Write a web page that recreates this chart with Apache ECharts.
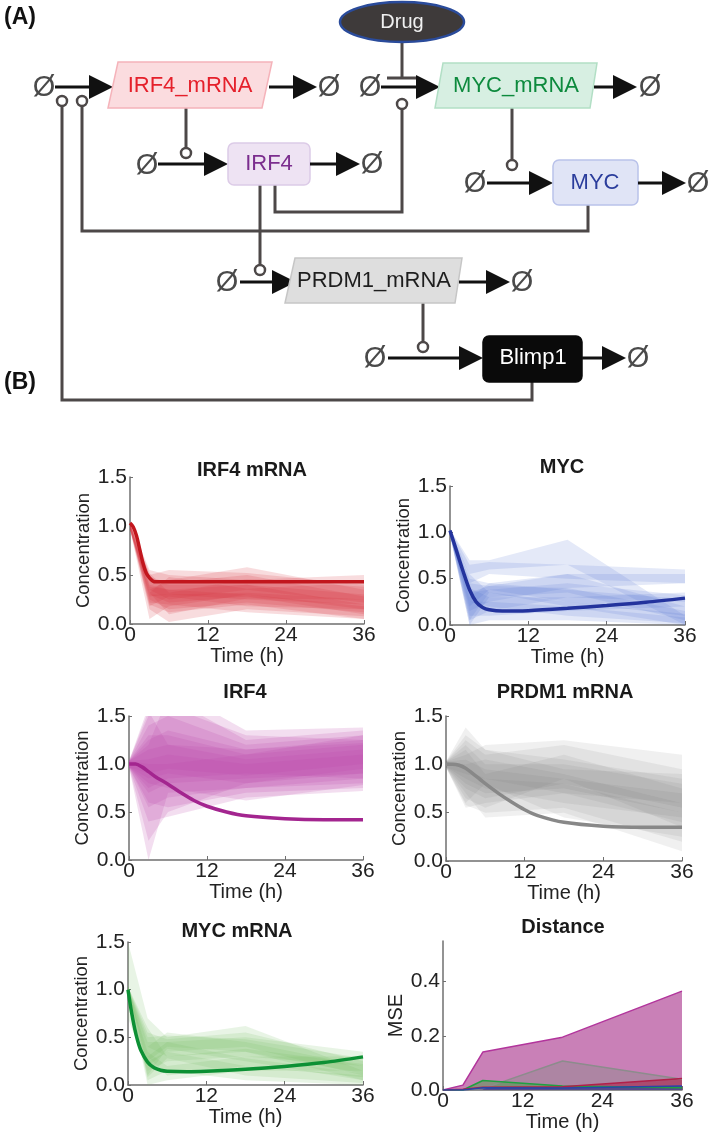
<!DOCTYPE html>
<html><head><meta charset="utf-8">
<script src="https://cdn.jsdelivr.net/npm/echarts@6/dist/echarts.min.js"></script>
<style>html,body{margin:0;padding:0;background:#fff}#c{width:709px;height:1134px}</style>
</head><body><div id="c"></div>
<script>
// ---------- DATA ----------
const bandTimes = [0, 3, 6, 18, 36];
const timeTicks = [0, 12, 24, 36];
const concTicks = [0, 0.5, 1.0, 1.5];
const mseTicks = [0, 0.2, 0.4];

// IRF4 mRNA
const irf4mRNA_lo = [[0.97,0.30,0.22,0.28,0.10],[0.97,0.20,0.12,0.20,0.05],[0.97,0.05,0.18,0.30,0.15],[0.97,0.28,0.30,0.25,0.20],[0.97,0.15,0.02,0.15,0.08],[0.97,0.35,0.25,0.35,0.22],[0.97,0.22,0.20,0.12,0.05],[0.97,0.25,0.15,0.22,0.12],[0.97,0.18,0.28,0.18,0.15],[0.97,0.32,0.10,0.26,0.25]];
const irf4mRNA_hi = [[1.03,0.48,0.42,0.50,0.28],[1.03,0.40,0.35,0.40,0.20],[1.03,0.35,0.45,0.58,0.35],[1.03,0.55,0.50,0.45,0.50],[1.03,0.30,0.30,0.32,0.25],[1.03,0.50,0.55,0.52,0.40],[1.03,0.38,0.35,0.30,0.18],[1.03,0.45,0.40,0.40,0.30],[1.03,0.32,0.48,0.36,0.42],[1.03,0.52,0.32,0.46,0.38]];
const irf4mRNA_t = [0,0.5,1,1.5,2,2.5,3,3.5,4,5,6,12,18,24,30,36];
const irf4mRNA_v = [1.03,0.99,0.90,0.76,0.62,0.52,0.47,0.44,0.43,0.43,0.43,0.43,0.43,0.43,0.43,0.43];

// MYC
const myc_lo = [[0.97,0.55,0.60,0.65,0.00],[0.97,0.45,0.55,0.50,0.45],[0.97,0.00,0.30,0.35,0.05],[0.97,0.05,0.35,0.20,0.00],[0.97,0.10,0.10,0.15,0.20],[0.97,0.00,0.05,0.05,0.00],[0.97,0.15,0.25,0.40,0.45],[0.97,0.20,0.38,0.25,0.10],[0.97,0.05,0.15,0.30,0.25],[0.97,0.25,0.20,0.10,0.02]];
const myc_hi = [[1.03,0.70,0.70,0.92,0.10],[1.03,0.65,0.68,0.65,0.60],[1.03,0.30,0.45,0.55,0.20],[1.03,0.35,0.42,0.40,0.15],[1.03,0.40,0.30,0.30,0.35],[1.03,0.25,0.25,0.20,0.08],[1.03,0.45,0.42,0.55,0.55],[1.03,0.50,0.45,0.38,0.28],[1.03,0.35,0.38,0.45,0.32],[1.03,0.55,0.35,0.25,0.12]];
const myc_t = [0,1,2,3,4,5,6,8,12,18,24,30,36];
const myc_v = [1.02,0.80,0.58,0.38,0.25,0.19,0.165,0.15,0.155,0.18,0.21,0.245,0.29];

// IRF4
const irf4_lo = [[0.97,0.00,0.70,0.75,0.80],[0.97,0.60,0.55,0.70,0.75],[0.97,0.70,0.80,0.85,0.90],[0.97,0.40,0.45,0.65,0.72],[0.97,0.85,0.90,0.80,0.95],[0.97,0.75,0.85,0.90,0.85],[0.97,0.55,0.65,0.75,0.85],[0.97,0.80,0.75,0.62,0.78],[0.97,0.20,0.50,0.80,0.90],[0.97,0.90,0.95,0.88,1.00]];
const irf4_hi = [[1.03,1.55,1.20,1.15,1.25],[1.03,1.20,1.70,1.25,1.35],[1.03,1.30,1.30,1.10,1.20],[1.03,1.60,1.80,1.35,1.38],[1.03,1.15,1.20,1.05,1.15],[1.03,1.40,1.50,1.20,1.30],[1.03,1.05,1.10,1.00,1.10],[1.03,1.50,1.60,1.30,1.25],[1.03,1.00,1.00,1.10,1.30],[1.03,1.25,1.35,1.15,1.22]];
const irf4_t = [0,1,2,3,4,6,8,10,12,15,18,24,30,36];
const irf4_v = [1.0,1.0,0.97,0.92,0.87,0.79,0.70,0.62,0.56,0.50,0.46,0.43,0.42,0.42];

// PRDM1 mRNA
const prdm1_lo = [[0.97,0.55,0.60,0.70,0.40],[0.97,0.70,0.45,0.50,0.10],[0.97,0.80,0.70,0.75,0.50],[0.97,0.60,0.80,0.45,0.25],[0.97,0.75,0.65,0.80,0.55],[0.97,0.85,0.75,0.60,0.45],[0.97,0.65,0.55,0.85,0.35],[0.97,0.90,0.85,0.70,0.60],[0.97,0.58,0.50,0.55,0.20]];
const prdm1_hi = [[1.03,1.38,1.15,1.05,0.85],[1.03,1.10,1.20,1.25,1.10],[1.03,1.20,1.00,1.00,0.80],[1.03,1.00,1.05,0.90,0.60],[1.03,1.25,1.10,1.20,0.95],[1.03,1.05,0.95,0.85,0.70],[1.03,1.15,0.90,1.10,0.75],[1.03,1.30,1.15,0.95,0.90],[1.03,0.95,0.85,0.80,0.50]];
const prdm1_t = [0,1,2,3,4,6,8,10,12,14,18,24,30,36];
const prdm1_v = [1.0,1.0,0.99,0.96,0.91,0.80,0.70,0.61,0.53,0.47,0.40,0.36,0.35,0.35];

// MYC mRNA
const mycmRNA_lo = [[1.00,0.40,0.30,0.35,0.05],[0.97,0.20,0.35,0.40,0.10],[0.97,0.00,0.05,0.15,0.15],[0.97,0.10,0.38,0.25,0.05],[0.97,0.05,0.15,0.05,0.00],[0.70,0.15,0.25,0.30,0.20],[0.97,0.30,0.10,0.20,0.08],[0.97,0.08,0.28,0.10,0.02],[0.97,0.25,0.40,0.35,0.12]];
const mycmRNA_hi = [[1.50,0.70,0.50,0.62,0.15],[1.03,0.55,0.48,0.55,0.25],[1.03,0.35,0.20,0.30,0.30],[1.03,0.40,0.55,0.45,0.20],[1.03,0.25,0.35,0.20,0.10],[1.03,0.45,0.45,0.50,0.35],[1.03,0.60,0.30,0.38,0.22],[1.03,0.30,0.45,0.28,0.12],[1.03,0.50,0.52,0.48,0.28]];
const mycmRNA_t = [0,0.5,1,1.5,2,3,4,5,6,9,12,18,24,30,36];
const mycmRNA_v = [1.0,0.78,0.60,0.46,0.36,0.24,0.18,0.155,0.145,0.14,0.145,0.165,0.195,0.235,0.295];

// Distance (MSE)
const mseTimes = [0, 3, 6, 18, 36];
const mse_irf4 = [0, 0.018, 0.14, 0.195, 0.365];
const mse_prdm1 = [0, 0, 0.005, 0.107, 0.04];
const mse_mycmRNA = [0, 0, 0.035, 0.015, 0.008];
const mse_irf4mRNA = [0, 0.003, 0.01, 0.012, 0.042];
const mse_myc = [0, 0, 0.008, 0.007, 0.015];

// ---------- CHART ----------
const FF = '"Liberation Sans", Arial, sans-serif';
const grids = [
  {left:130, top:477, width:234, height:147},
  {left:450, top:486, width:235, height:139},
  {left:129, top:716, width:234, height:144},
  {left:446, top:716, width:236, height:145},
  {left:128, top:942, width:235, height:143},
  {left:443, top:941, width:239, height:149}
];
const titles = [
  ['IRF4 mRNA', 252, 471], ['MYC', 562, 468], ['IRF4', 245, 693],
  ['PRDM1 mRNA', 565, 693], ['MYC mRNA', 237, 932], ['Distance', 563, 928]
];
const axLine = {show:true, lineStyle:{color:'#6f6f6f', width:1.5}};
const xAxes = grids.map((g,k)=>({
  type:'value', gridIndex:k, min:0, max:36, interval:12,
  name:'Time (h)', nameLocation:'middle', nameGap:20,
  nameTextStyle:{fontSize:20, color:'#222', fontFamily:FF},
  axisLine:axLine, splitLine:{show:false},
  axisTick:{show:true, inside:true, length:4, lineStyle:{color:'#6f6f6f'}},
  axisLabel:{fontSize:21, color:'#222', fontFamily:FF, margin:1, customValues:timeTicks},
}));
const yAxes = grids.map((g,k)=>{
  const isMse = k===5;
  return {
    type:'value', gridIndex:k, min:0, max: isMse?0.55:1.5, interval: isMse?0.2:0.5,
    name: isMse?'MSE':'Concentration', nameLocation:'middle', nameGap: isMse?32:37,
    nameTextStyle:{fontSize: isMse?20:18.5, color:'#222', fontFamily:FF},
    axisLine:axLine, splitLine:{show:false},
    axisTick:{show:true, inside:true, length:3, lineStyle:{color:'#6f6f6f'}, customValues: isMse?mseTicks:concTicks},
    axisLabel:{fontSize:21, color:'#222', fontFamily:FF, margin:3, customValues: isMse?mseTicks:concTicks,
      formatter:v=>v.toFixed(1)}
  };
});

function bandSeries(k, lo, hi, color){
  return {type:'custom', xAxisIndex:k, yAxisIndex:k, clip:true, silent:true, z:1,
    data: lo.map(l=>[bandTimes[0], l[0]]),
    renderItem:(params, api)=>{
      const i = params.dataIndex;
      const top = bandTimes.map((t,j)=>api.coord([t, hi[i][j]]));
      const bot = bandTimes.map((t,j)=>api.coord([t, lo[i][j]])).reverse();
      return {type:'polygon', shape:{points: top.concat(bot)}, style:{fill:color}};
    }};
}
function modelSeries(k, t, v, color){
  return {type:'line', xAxisIndex:k, yAxisIndex:k, z:3, silent:true,
    data: t.map((x,i)=>[x, v[i]]), smooth:0.3, symbol:'none',
    lineStyle:{color, width:3.5}};
}
function mseSeries(v, stroke, fill){
  return {type:'line', xAxisIndex:5, yAxisIndex:5, silent:true, symbol:'none',
    data: mseTimes.map((t,i)=>[t, v[i]]),
    lineStyle:{color:stroke, width:1.5}, areaStyle:{color:fill, opacity:1}};
}

const series = [
  bandSeries(0, irf4mRNA_lo, irf4mRNA_hi, 'rgba(215,50,60,0.17)'),
  modelSeries(0, irf4mRNA_t, irf4mRNA_v, '#c2161d'),
  bandSeries(1, myc_lo, myc_hi, 'rgba(90,120,210,0.16)'),
  modelSeries(1, myc_t, myc_v, '#23339d'),
  bandSeries(2, irf4_lo, irf4_hi, 'rgba(190,70,170,0.18)'),
  modelSeries(2, irf4_t, irf4_v, '#a3258f'),
  bandSeries(3, prdm1_lo, prdm1_hi, 'rgba(120,120,120,0.11)'),
  modelSeries(3, prdm1_t, prdm1_v, '#888888'),
  bandSeries(4, mycmRNA_lo, mycmRNA_hi, 'rgba(120,190,100,0.17)'),
  modelSeries(4, mycmRNA_t, mycmRNA_v, '#0c9034'),
  mseSeries(mse_irf4, '#b2359c', '#c980b7'),
  mseSeries(mse_prdm1, '#8c8c8c', 'rgba(140,140,140,0.45)'),
  mseSeries(mse_mycmRNA, '#1fa040', 'rgba(60,160,60,0.45)'),
  mseSeries(mse_irf4mRNA, '#b0204a', 'rgba(170,30,70,0.55)'),
  mseSeries(mse_myc, '#2a44a8', 'rgba(40,70,170,0.6)')
];

// ---------- DIAGRAM (panel A) ----------
const D = [];
const INK = '#4d4848';
function txt(s, x, y, size, color, bold){
  D.push({type:'text', x, y, z:10, style:{text:s, fill:color, fontSize:size, fontFamily:FF,
    fontWeight: bold?'bold':'normal', align:'center', verticalAlign:'middle',
    textAlign:'center', textVerticalAlign:'middle'}});
}
function nul(x, y){ txt('Ø', x, y+1, 29, '#4a4a4a', false); }
function arrow(x1, y, x2){
  D.push({type:'line', shape:{x1, y1:y, x2:x2-18, y2:y}, style:{stroke:'#111', lineWidth:3}});
  D.push({type:'polygon', shape:{points:[[x2-24,y-12],[x2,y],[x2-24,y+12]]}, style:{fill:'#111'}});
}
function pline(points){ D.push({type:'polyline', shape:{points}, style:{stroke:INK, lineWidth:3, fill:null}}); }
function ring(cx, cy){ D.push({type:'circle', z:5, shape:{cx, cy, r:5}, style:{fill:'#fff', stroke:INK, lineWidth:2.5}}); }
function para(pts, fill, stroke){ D.push({type:'polygon', shape:{points:pts}, style:{fill, stroke, lineWidth:1.5}}); }
function box(x, y, w, h, fill, stroke){ D.push({type:'rect', shape:{x, y, width:w, height:h, r:6}, style:{fill, stroke, lineWidth:1.5}}); }

// connectors
pline([[275,185],[275,212],[402,212],[402,109]]);
pline([[588,205],[588,231],[82,231],[82,106]]);
pline([[532,382],[532,400],[62,400],[62,106]]);
pline([[260,185],[260,265]]);
pline([[186,108],[186,148]]);
pline([[512,108],[512,160]]);
pline([[423,303],[423,342]]);
pline([[402,42],[402,78]]);
D.push({type:'line', shape:{x1:387, y1:78, x2:416, y2:78}, style:{stroke:INK, lineWidth:3}});
ring(62,101); ring(82,101); ring(402,104); ring(186,153); ring(512,165); ring(260,270); ring(423,347);

// row 1
nul(44,87); arrow(55,87,113);
para([[118,62],[272,62],[262,108],[108,108]], '#fbdcdf', '#f5b3ba');
txt('IRF4_mRNA', 190, 86, 22, '#e5202b');
arrow(269,87,317); nul(329,87);
nul(370,87); arrow(381,87,440);
para([[443,63],[597,63],[590,108],[435,108]], '#d7efe2', '#b2dfc5');
txt('MYC_mRNA', 516, 86, 22, '#0d8a3d');
arrow(594,87,637); nul(650,87);
D.push({type:'ellipse', shape:{cx:402, cy:22, rx:62, ry:20}, style:{fill:'#3e3a3a', stroke:'#2a4b9b', lineWidth:2.5}});
txt('Drug', 402, 22, 20, '#f0f0f0');
// row 2
nul(147,165); arrow(158,164,228);
box(228,143,82,42,'#eee3f3','#dccbe7');
txt('IRF4', 269, 164, 22, '#7b2d8e');
arrow(310,164,360); nul(372,164);
nul(475,183); arrow(487,183,553);
box(553,160,85,45,'#e0e4f6','#b9c2ea');
txt('MYC', 595, 183, 22, '#2b3d9c');
arrow(638,183,686); nul(698,183);
// row 3
nul(227,282); arrow(240,282,296);
para([[295,258],[462,258],[455,303],[285,303]], '#dedede', '#c6c6c6');
txt('PRDM1_mRNA', 374, 281, 22, '#1e1e1e');
arrow(459,282,510); nul(522,282);
// row 4
nul(375,358); arrow(388,358,483);
box(483,336,99,46,'#0a0a0a','#0a0a0a');
txt('Blimp1', 533, 358, 22, '#ffffff');
arrow(582,358,626); nul(638,358);
// panel letters
D.push({type:'text', x:4, y:18, style:{text:'(A)', fill:'#111', fontSize:23, fontWeight:'bold', fontFamily:FF, verticalAlign:'middle', textVerticalAlign:'middle'}});
D.push({type:'text', x:4, y:383, style:{text:'(B)', fill:'#111', fontSize:23, fontWeight:'bold', fontFamily:FF, verticalAlign:'middle', textVerticalAlign:'middle'}});

const chart = echarts.init(document.getElementById('c'), null, {renderer:'canvas'});
chart.setOption({
  animation:false,
  backgroundColor:'#fff',
  title: titles.map(t=>({text:t[0], left:t[1], top:t[2]-11, textAlign:'center', padding:0,
    textStyle:{fontSize:20, fontWeight:'bold', color:'#1a1a1a', fontFamily:FF}})),
  grid: grids.map(g=>Object.assign({outerBoundsMode:'none', containLabel:false}, g)),
  xAxis: xAxes, yAxis: yAxes, series,
  graphic: D
});
</script></body></html>
